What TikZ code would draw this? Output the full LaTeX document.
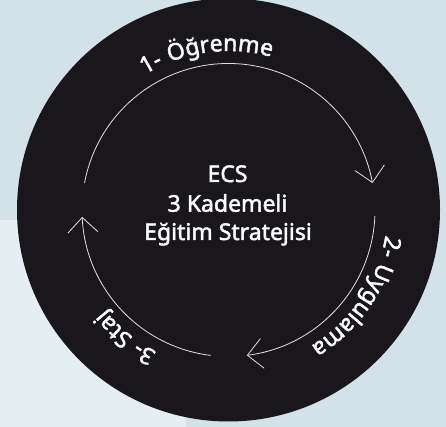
\documentclass[tikz,border=0pt]{standalone}
\usepackage{fontspec}
\setmainfont{Noto Sans}
\newfontfamily\labelfont{Noto Sans}[FakeBold=2]
\newfontfamily\curvefont{Noto Sans}[FakeBold=2,LetterSpace=5]
\usetikzlibrary{arrows.meta,decorations.text}
\definecolor{bgblue}{RGB}{211,225,233}
\definecolor{bglight}{RGB}{229,238,242}
\definecolor{disc}{RGB}{25,23,27}
\definecolor{ring}{RGB}{225,225,225}
\begin{document}
\begin{tikzpicture}[x=1pt,y=1pt,
  ringarc/.style={draw=ring, line width=0.8pt, -{Straight Barb[length=15pt,width=30pt]}},
  centertext/.style={text=white, font=\labelfont\fontsize{23}{27}\selectfont, anchor=base, inner sep=0pt},
  curvelabel/.style={decorate, decoration={text along path, text align=center, text color=white, text={#1}}}
]
\clip (0,0) rectangle (446,427);
\fill[bgblue] (0,0) rectangle (446,427);
\fill[bglight] (0,0) rectangle (186,207);
\coordinate (c) at (228.5,217);
\fill[disc] (c) circle[radius=211.5pt];
% ring arcs
\draw[ringarc] ([shift={(169.4:146.5pt)}]c) arc[start angle=169.4, end angle=10.6, radius=146.5pt];
\draw[ringarc] ([shift={(-2.4:146.5pt)}]c) arc[start angle=-2.4, end angle=-82.8, radius=146.5pt];
\draw[ringarc] ([shift={(-97:146.5pt)}]c) arc[start angle=-97, end angle=-177.3, radius=146.5pt];
% curved labels
\path[curvelabel={|\curvefont\fontsize{23}{27}\selectfont|1- Öğrenme}] ([shift={(143:159pt)}]c) arc[start angle=143, end angle=53, radius=159pt];
\path[curvelabel={|\curvefont\fontsize{23}{27}\selectfont|2- Uygulama}] ([shift={(11:159pt)}]c) arc[start angle=11, end angle=-79, radius=159pt];
\path[curvelabel={|\curvefont\fontsize{23}{27}\selectfont|3- Staj}] ([shift={(-84:159pt)}]c) arc[start angle=-84, end angle=-174, radius=159pt];
% centre text
\node[centertext] (t1) at (227.5,245) {ECS};
\node[centertext] (t2) at (227.5,215.3) {3 Kademeli};
\node[centertext] (t3) at (228,187) {Eğitim Stratejisi};
\end{tikzpicture}
\end{document}
